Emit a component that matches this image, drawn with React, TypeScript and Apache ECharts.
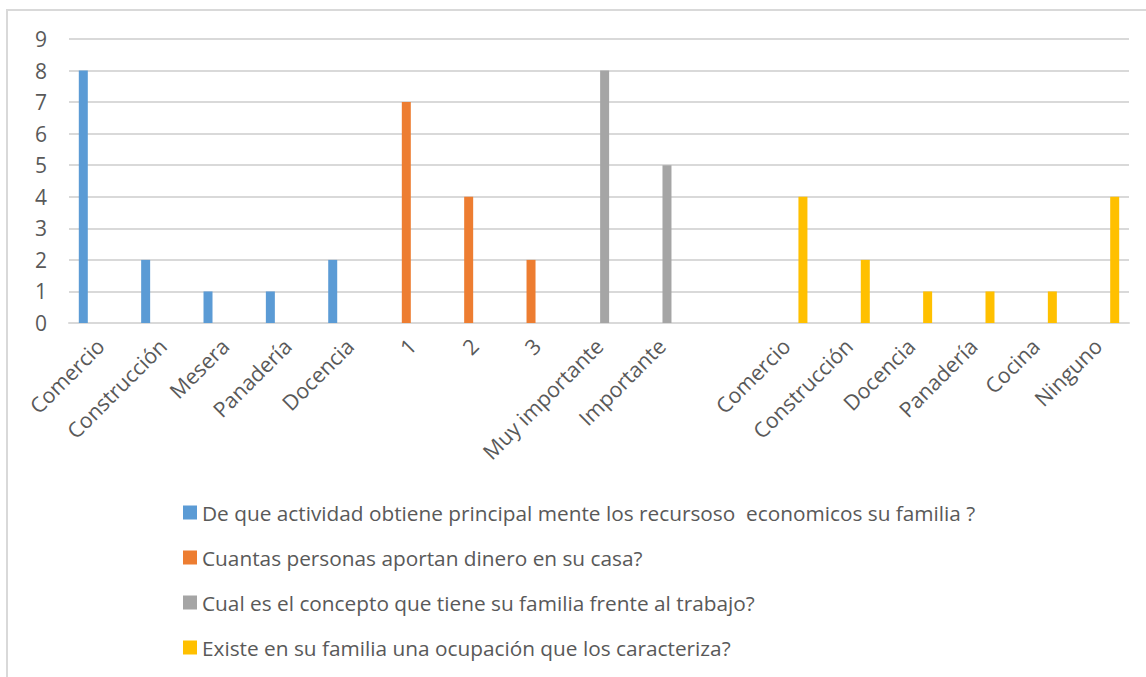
import React, { useEffect, useRef } from "react";
import * as echarts from "echarts";

const categories = [
  "Comercio", "Construcción", "Mesera", "Panadería", "Docencia",
  "1", "2", "3",
  "Muy importante", "Importante",
  "",
  "Comercio", "Construcción", "Docencia", "Panadería", "Cocina", "Ninguno",
];

const seriesNames = [
  "De que actividad obtiene principal mente los recursoso  economicos su familia ?",
  "Cuantas personas aportan dinero en su casa?",
  "Cual es el concepto que tiene su familia frente al trabajo?",
  "Existe en su familia una ocupación que los caracteriza?",
];

const actividad = [8, 2, 1, 1, 2, null, null, null, null, null, null, null, null, null, null, null, null];
const personas = [null, null, null, null, null, 7, 4, 2, null, null, null, null, null, null, null, null, null];
const concepto = [null, null, null, null, null, null, null, null, 8, 5, null, null, null, null, null, null, null];
const ocupacion = [null, null, null, null, null, null, null, null, null, null, null, 4, 2, 1, 1, 1, 4];

const colors = ["#5B9BD5", "#ED7D31", "#A5A5A5", "#FFC000"];
const yTicks = [0, 9, 1];

export default function App() {
  const ref = useRef<HTMLDivElement>(null);
  useEffect(() => {
    if (!ref.current) return;
    const chart = echarts.init(ref.current, null, { renderer: "svg" });
    const font = "'Open Sans', sans-serif";
    const data = [actividad, personas, concepto, ocupacion];
    chart.setOption({
      animation: false,
      backgroundColor: "#fff",
      textStyle: { fontFamily: font },
      graphic: [
        {
          type: "rect",
          shape: { x: 7, y: 10, width: 1160, height: 700 },
          style: { fill: "none", stroke: "#d9d9d9", lineWidth: 2 },
          silent: true,
        },
      ],
      grid: { left: 69, right: 17, top: 39, bottom: 354, containLabel: false },
      legend: {
        orient: "vertical",
        left: 183,
        top: 502,
        height: 175,
        padding: 0,
        itemWidth: 14,
        itemHeight: 14,
        itemGap: 24,
        icon: "rect",
        textStyle: { fontSize: 20.8, color: "#595959", fontFamily: font },
        data: seriesNames,
      },
      xAxis: {
        type: "category",
        data: categories,
        axisLine: { show: true, lineStyle: { color: "#d9d9d9", width: 2 } },
        axisTick: { show: false },
        axisLabel: {
          interval: 0,
          rotate: 45,
          fontSize: 21.3,
          color: "#595959",
          margin: 19,
          fontFamily: font,
        },
      },
      yAxis: {
        type: "value",
        min: yTicks[0],
        max: yTicks[1],
        interval: yTicks[2],
        axisLine: { show: false },
        axisTick: { show: false },
        splitLine: { lineStyle: { color: "#d9d9d9", width: 2 } },
        axisLabel: { fontSize: 21, color: "#595959", margin: 22, fontFamily: font },
      },
      series: data.map((d, i) => ({
        name: seriesNames[i],
        type: "bar",
        data: d,
        barWidth: 9,
        barGap: "25%",
        itemStyle: { color: colors[i] },
      })),
    });
    return () => chart.dispose();
  }, []);
  return <div ref={ref} style={{ width: 1146, height: 677, position: "absolute", left: 0, top: 0 }} />;
}
